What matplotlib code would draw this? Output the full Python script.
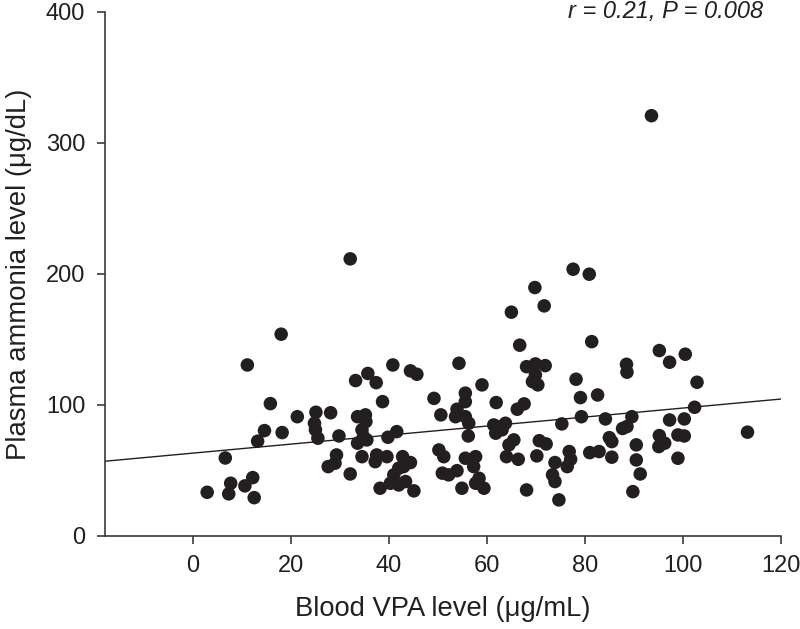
import matplotlib
matplotlib.use("Agg")
import matplotlib.pyplot as plt
import numpy as np

# Blood VPA level (ug/mL) vs plasma ammonia level (ug/dL)
vpa = [
    2.9, 6.6, 7.3, 7.7, 10.6, 11.1, 12.2, 12.5, 13.2, 14.6, 15.8, 18.0, 18.2,
    21.3, 25.1, 24.8, 25.0, 25.5, 28.1, 27.6, 29.0, 29.3,
    29.8, 32.1, 32.1, 33.2, 33.6, 35.2, 35.3, 34.5, 34.8, 35.5, 33.6, 34.5,
    35.7, 37.4, 37.5, 37.2, 38.7, 39.6, 39.8, 40.8, 41.6, 42.8, 44.4, 43.0,
    42.0, 41.0, 40.3, 42.0, 43.4, 38.2, 45.1, 44.4, 45.7, 49.2, 50.6, 50.2,
    51.2, 50.9, 52.2, 53.9, 54.9, 54.3, 55.6, 55.6, 53.9, 53.6, 55.6, 56.3,
    56.2, 55.6, 57.7, 57.3, 58.4, 59.4, 57.7, 59.0,
    61.9, 61.4, 62.8, 63.8, 61.8, 63.1, 65.5, 64.5, 64.0, 66.4, 66.2, 67.6,
    65.0, 66.7, 68.1, 69.9, 71.9, 69.9, 69.3, 70.4, 69.8, 71.7, 68.1, 70.7,
    72.1, 70.2, 75.3, 76.8, 77.1, 76.4, 73.9, 73.4, 73.9, 74.7, 77.6, 80.9,
    78.2, 79.1, 82.6, 79.3, 81.4, 81.0, 82.9, 85.5, 84.2, 85.0, 85.5, 87.7,
    88.6, 88.5, 88.6, 89.6, 90.5, 90.5, 91.3, 89.8,
    93.6, 95.2, 97.3, 100.5, 102.9, 102.4, 97.3, 100.3, 95.2, 96.3, 95.1,
    99.0, 100.3, 99.0, 113.2,
]
ammonia = [
    33.3, 59.5, 32.1, 40.2, 38.2, 130.5, 44.5, 29.2, 72.3, 80.4, 101, 154, 78.9,
    91, 94.4, 86, 81, 74.6, 94, 52.9, 55.5, 61.8,
    76.3, 211.5, 47.3, 118.6, 91, 92.4, 87.3, 81, 75.8, 73.3, 70.8, 60.5,
    124, 117, 61.8, 56.7, 102.5, 60.5, 75.3, 130.5, 79.6, 60.5, 56, 52.9,
    51.7, 46.6, 40.2, 38.9, 41.5, 36.4, 34.4, 126, 123.4, 105, 92.4, 65.6,
    60.5, 47.9, 46.6, 49.8, 36.4, 131.8, 109, 102.5, 96.7, 91, 91, 86,
    76.3, 59.3, 60.5, 52.9, 44, 36.4, 40.2, 115.3,
    101.8, 84.7, 83.4, 86, 78.4, 81, 73.3, 69.5, 60.5, 58.5, 96.7, 100.8,
    170.8, 145.6, 129.2, 131.3, 130, 122.9, 117.8, 115.3, 189.6, 175.6, 35.1, 72.7,
    70.2, 61.1, 85.5, 64.4, 58.5, 52.9, 56, 46.6, 41.5, 27.5, 203.6, 199.8,
    119.6, 105.6, 107.6, 91, 148.3, 63.6, 64.4, 60.1, 89.3, 75, 72, 82,
    83.5, 131, 125, 91, 69.5, 58, 47.3, 33.8,
    320.8, 141.5, 132.6, 138.7, 117.3, 98.2, 88.5, 89.3, 76.6, 70.8, 68.2,
    77.1, 76.3, 59.3, 79.2,
]

# regression line as drawn in the figure
fit_intercept = 63.2
fit_slope = 0.344
fit_x = [-18, 120]

xticks = [0, 20, 40, 60, 80, 100, 120]
yticks = [0, 100, 200, 300, 400]

plt.rcParams["font.family"] = ["Liberation Sans", "DejaVu Sans"]
ink = "#231f20"

fig = plt.figure(figsize=(8, 6.29), dpi=100)
ax = fig.add_axes([0.131, 0.148, 0.845, 0.833])

ax.scatter(vpa, ammonia, s=95, color=ink, edgecolor="none", zorder=3)
fx = np.array(fit_x, dtype=float)
ax.plot(fx, fit_intercept + fit_slope * fx, color=ink, lw=1.0, zorder=2)

ax.set_xlim(-18, 120)
ax.set_ylim(0, 400)
ax.set_xticks(xticks)
ax.set_yticks(yticks)

for side in ("top", "right"):
    ax.spines[side].set_visible(False)
for side in ("left", "bottom"):
    ax.spines[side].set_color("#3a3a3a")
    ax.spines[side].set_linewidth(1.2)
ax.tick_params(axis="both", direction="out", length=6, width=1.2,
               color="#3a3a3a", labelsize=17, labelcolor=ink)
ax.tick_params(axis="x", pad=7.5)
ax.tick_params(axis="y", pad=8)

ax.set_xlabel("Blood VPA level (\u03bcg/mL)", fontsize=19.7, color=ink,
              labelpad=14)
ax.set_ylabel("Plasma ammonia level (\u03bcg/dL)", fontsize=19.8, color=ink,
              labelpad=10)

ax.text(116.3, 395.4, "r = 0.21, P = 0.008", ha="right", va="baseline",
        fontsize=17, style="italic", color=ink)

fig.savefig("out.png", dpi=100)
